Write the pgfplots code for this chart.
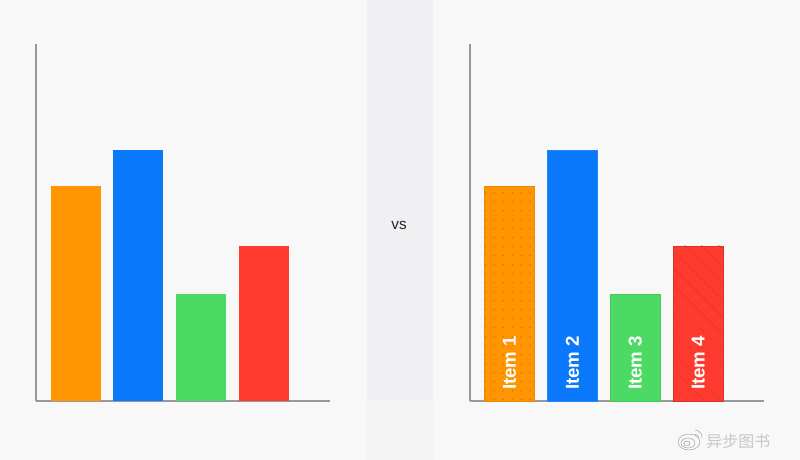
\documentclass[border=0pt]{standalone}
\usepackage{fontspec}
\setmainfont{Liberation Sans}
\newfontfamily\cjk{Noto Sans CJK SC}
\usepackage{pgfplots}
\pgfplotsset{compat=1.18}
\usetikzlibrary{patterns.meta}
\definecolor{bg}{HTML}{F8F8F9}
\definecolor{bandtop}{HTML}{F0F0F2}
\definecolor{bandbot}{HTML}{F3F3F4}
\definecolor{axisgray}{HTML}{98989C}
\definecolor{c1}{HTML}{FF9500}
\definecolor{c2}{HTML}{0A78FA}
\definecolor{c3}{HTML}{4CD964}
\definecolor{c4}{HTML}{FF3B30}
\pgfplotsset{
  common/.style={
    scale only axis, width=220.5pt, height=267.75pt,
    anchor=south west,
    xmin=-0.628, xmax=4.046, ymin=0, ymax=357,
    axis x line=bottom, axis y line=left,
    axis line style={draw=axisgray, line width=1.8pt, -},
    xtick=\empty, ytick=\empty,
    ybar, bar width=37.5pt, bar shift=0pt,
    clip=false,
  },
}
\tikzset{
  itemlabel/.style={rotate=90, text=white, font=\bfseries\fontsize{14pt}{16pt}\selectfont, inner sep=0pt},
}
\begin{document}
\begin{tikzpicture}[x=0.75pt,y=0.75pt]
  \path[use as bounding box] (0,0) rectangle (800,460);
  \fill[bg] (0,0) rectangle (800,460);
  \fill[bandtop] (367,60) rectangle (433,460);
  \fill[bandbot] (367,0) rectangle (433,60);
  \node[font=\fontsize{11.5pt}{13pt}\selectfont, text=black!85] at (399,235) {vs};

  \begin{axis}[common, at={(27pt,44.25pt)}]
    \addplot[fill=c1, draw=none] coordinates {(0,215)};
    \addplot[fill=c2, draw=none] coordinates {(1,251)};
    \addplot[fill=c3, draw=none] coordinates {(2,107)};
    \addplot[fill=c4, draw=none] coordinates {(3,155)};
  \end{axis}

  \begin{axis}[common, at={(352.5pt,44.25pt)}]
    \addplot[fill=c1, draw=c1!92!black, line width=0.3pt,
      postaction={pattern={Dots[distance=6.5pt, radius=0.5pt]}, pattern color=c1!72!black}] coordinates {(0,215)};
    \addplot[fill=c2, draw=c2!90!white, line width=0.3pt] coordinates {(1,251)};
    \addplot[fill=c3, draw=c3!92!black, line width=0.3pt] coordinates {(2,107)};
    \addplot[fill=c4, draw=c4!85!black, line width=0.3pt,
      postaction={pattern={Lines[angle=-45, distance=9pt, line width=0.3pt]}, pattern color=c4!88!black}] coordinates {(3,155)};
    \node[itemlabel] at (axis cs:0,38) {Item 1};
    \node[itemlabel] at (axis cs:1,38) {Item 2};
    \node[itemlabel] at (axis cs:2,38) {Item 3};
    \node[itemlabel] at (axis cs:3,38) {Item 4};
  \end{axis}

  % watermark
  \node[anchor=west, inner sep=0pt, text=white!78!black, font=\cjk\fontsize{12pt}{14pt}\selectfont] at (706,19) {异步图书};
  \begin{scope}[draw=white!62!black, line width=0.35pt]
    \draw (689,18) ellipse (11 and 8);
    \draw (688,17) ellipse (7 and 5);
    \draw (687,16.5) ellipse (3 and 2.4);
    \draw (695,30) arc (90:-10:7);
    \draw (695,26) arc (90:-10:3.5);
  \end{scope}
\end{tikzpicture}
\end{document}
